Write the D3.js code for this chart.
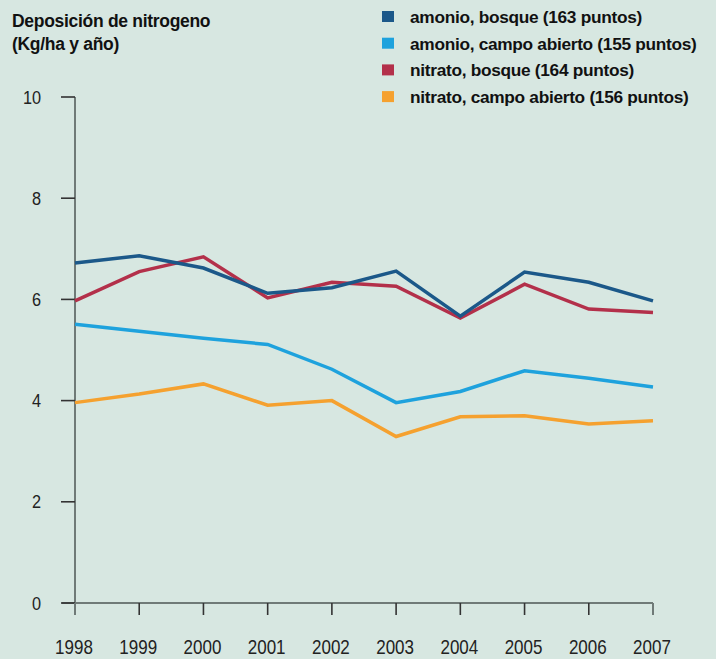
<!DOCTYPE html>
<html><head><meta charset="utf-8">
<script src="https://cdn.jsdelivr.net/npm/d3@7"></script>
<style>
html,body{margin:0;padding:0;background:#d7e7e1;}
svg{display:block;}
</style></head><body>
<svg id="c" width="716" height="659"></svg>
<script>
const years = [1998,1999,2000,2001,2002,2003,2004,2005,2006,2007];
const amonioBosque  = [6.72,6.86,6.62,6.12,6.23,6.56,5.67,6.54,6.34,5.97];
const amonioCampo   = [5.51,5.37,5.23,5.11,4.62,3.96,4.18,4.59,4.44,4.27];
const nitratoBosque = [5.97,6.55,6.84,6.03,6.34,6.26,5.63,6.30,5.81,5.74];
const nitratoCampo  = [3.96,4.13,4.33,3.91,4.00,3.29,3.68,3.70,3.54,3.60];
const yTicks = [0,2,4,6,8,10];
const seriesNames = ["amonio, bosque (163 puntos)","amonio, campo abierto (155 puntos)","nitrato, bosque (164 puntos)","nitrato, campo abierto (156 puntos)"];
const seriesColors = ["#1b5889","#1ea2dd","#b3304a","#f5a12f"];
const seriesValues = [amonioBosque, amonioCampo, nitratoBosque, nitratoCampo];
const titleLines = ["Deposición de nitrogeno","(Kg/ha y año)"];

const svg = d3.select("#c");
const x = d3.scaleLinear().domain([1998,2007]).range([75,653]);
const y = d3.scaleLinear().domain([0,10]).range([603,97]);
const sansFont = "'Liberation Sans',Arial,sans-serif";

// title
svg.append("text").attr("font-family",sansFont)
  .attr("font-weight","bold").attr("font-size",17.5).attr("fill","#111").attr("letter-spacing",-0.3)
  .selectAll("tspan").data(titleLines).join("tspan").attr("x",12).attr("y",(d,i)=>27+i*23).text(d=>d);

// axes
const axisColor = "#6f7a77";
svg.append("line").attr("x1",75).attr("x2",75).attr("y1",y(10)).attr("y2",615).attr("stroke",axisColor).attr("stroke-width",2);
svg.append("line").attr("x1",62).attr("x2",x(2007)).attr("y1",y(0)).attr("y2",y(0)).attr("stroke",axisColor).attr("stroke-width",2);
svg.selectAll(".yt").data(yTicks).join("line").attr("x1",61).attr("x2",75)
  .attr("y1",d=>y(d)).attr("y2",d=>y(d)).attr("stroke","#333").attr("stroke-width",1.6);
svg.selectAll(".yl").data(yTicks).join("g")
  .attr("transform",d=>`translate(41,${y(d)+6.5}) scale(0.88,1)`)
  .append("text").attr("text-anchor","end").attr("font-family",sansFont).attr("font-size",18.5).attr("fill","#222").text(d=>d);
svg.selectAll(".xt").data(years).join("line").attr("x1",d=>x(d)).attr("x2",d=>x(d))
  .attr("y1",y(0)).attr("y2",615)
  .attr("stroke",(d,i)=>(i===0||i===years.length-1)?axisColor:"#333")
  .attr("stroke-width",(d,i)=>(i===0||i===years.length-1)?2:1.6);
svg.selectAll(".xl").data(years).join("g")
  .attr("transform",d=>`translate(${x(d)-1},654) scale(0.85,1)`)
  .append("text").attr("text-anchor","middle").attr("font-family",sansFont).attr("font-size",20).attr("fill","#222").text(d=>d);

// lines
const line = d3.line().x((d,i)=>x(years[i])).y(d=>y(d));
[1,3,2,0].forEach(k=>{
  svg.append("path").datum(seriesValues[k]).attr("d",line).attr("fill","none")
    .attr("stroke",seriesColors[k]).attr("stroke-width",3.5).attr("stroke-linejoin","miter");
});

// legend
const lg = svg.append("g");
seriesNames.forEach((n,i)=>{
  const cy = 17 + i*26.7;
  lg.append("rect").attr("x",382).attr("y",cy-6).attr("width",12).attr("height",11).attr("fill",seriesColors[i]);
  lg.append("text").attr("x",410).attr("y",cy+6).attr("font-family",sansFont)
    .attr("font-weight","bold").attr("font-size",17.3).attr("letter-spacing",-0.3).attr("fill","#111").text(n);
});
</script>
</body></html>
